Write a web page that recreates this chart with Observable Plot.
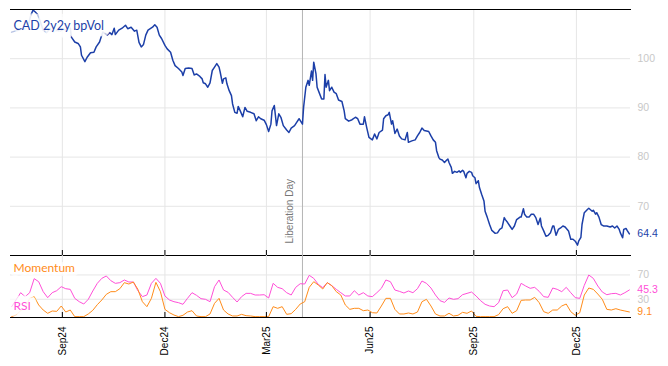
<!DOCTYPE html>
<html><head><meta charset="utf-8">
<script src="https://cdn.jsdelivr.net/npm/d3@7"></script>
<script src="https://cdn.jsdelivr.net/npm/@observablehq/plot@0.6"></script>
<style>
body{margin:0;background:#fff;}
#chart{position:relative;width:668px;height:366px;}
#chart svg{position:absolute;left:0;}
</style></head><body><div id="chart"></div>
<script>
const bpDates = ["2024-07-18","2024-07-21","2024-07-24","2024-07-27","2024-07-30","2024-08-02","2024-08-04","2024-08-06","2024-08-08","2024-08-10",
"2024-08-12","2024-08-15","2024-08-18","2024-08-21","2024-08-24","2024-08-27","2024-08-30","2024-09-02","2024-09-05","2024-09-08",
"2024-09-09","2024-09-12","2024-09-15","2024-09-17","2024-09-18","2024-09-21","2024-09-23","2024-09-26","2024-09-29","2024-10-01",
"2024-10-04","2024-10-06","2024-10-07","2024-10-09","2024-10-11","2024-10-13","2024-10-15","2024-10-17","2024-10-18","2024-10-21",
"2024-10-24","2024-10-27","2024-10-29","2024-11-01","2024-11-04","2024-11-06","2024-11-08","2024-11-10","2024-11-12","2024-11-14",
"2024-11-16","2024-11-20","2024-11-22","2024-11-24","2024-11-26","2024-11-28","2024-12-01","2024-12-03","2024-12-06","2024-12-08",
"2024-12-10","2024-12-13","2024-12-16","2024-12-17","2024-12-19","2024-12-22","2024-12-25","2024-12-27","2024-12-29","2025-01-01",
"2025-01-03","2025-01-04","2025-01-06","2025-01-08","2025-01-10","2025-01-12","2025-01-14","2025-01-16","2025-01-18","2025-01-19",
"2025-01-21","2025-01-22","2025-01-24","2025-01-25","2025-01-27","2025-01-29","2025-01-30","2025-02-01","2025-02-03","2025-02-04",
"2025-02-06","2025-02-08","2025-02-10","2025-02-12","2025-02-15","2025-02-18","2025-02-20","2025-02-22","2025-02-24","2025-02-27",
"2025-03-01","2025-03-03","2025-03-05","2025-03-06","2025-03-08","2025-03-10","2025-03-12","2025-03-14","2025-03-16","2025-03-19",
"2025-03-21","2025-03-23","2025-03-26","2025-03-28","2025-03-30","2025-04-02","2025-04-03","2025-04-05","2025-04-07","2025-04-08",
"2025-04-10","2025-04-11","2025-04-12","2025-04-14","2025-04-15","2025-04-17","2025-04-19","2025-04-21","2025-04-22","2025-04-23",
"2025-04-25","2025-04-26","2025-04-28","2025-04-30","2025-05-02","2025-05-04","2025-05-07","2025-05-09","2025-05-10","2025-05-13",
"2025-05-16","2025-05-19","2025-05-21","2025-05-23","2025-05-26","2025-05-27","2025-05-29","2025-05-31","2025-06-03","2025-06-05",
"2025-06-07","2025-06-09","2025-06-12","2025-06-13","2025-06-15","2025-06-17","2025-06-18","2025-06-20","2025-06-21","2025-06-23",
"2025-06-25","2025-06-27","2025-06-29","2025-07-02","2025-07-04","2025-07-05","2025-07-08","2025-07-11","2025-07-13","2025-07-15",
"2025-07-17","2025-07-19","2025-07-23","2025-07-25","2025-07-27","2025-07-29","2025-07-30","2025-08-01","2025-08-02","2025-08-04",
"2025-08-06","2025-08-08","2025-08-09","2025-08-10","2025-08-12","2025-08-13","2025-08-15","2025-08-17","2025-08-19","2025-08-20",
"2025-08-22","2025-08-23","2025-08-25","2025-08-26","2025-08-28","2025-08-30","2025-08-31","2025-09-02","2025-09-03","2025-09-05",
"2025-09-06","2025-09-08","2025-09-10","2025-09-11","2025-09-13","2025-09-15","2025-09-17","2025-09-20","2025-09-22","2025-09-24",
"2025-09-26","2025-09-28","2025-09-29","2025-10-01","2025-10-03","2025-10-05","2025-10-07","2025-10-09","2025-10-12","2025-10-13",
"2025-10-15","2025-10-16","2025-10-18","2025-10-20","2025-10-22","2025-10-24","2025-10-26","2025-10-28","2025-10-30","2025-10-31",
"2025-11-02","2025-11-04","2025-11-06","2025-11-08","2025-11-10","2025-11-11","2025-11-13","2025-11-15","2025-11-17","2025-11-19",
"2025-11-21","2025-11-24","2025-11-26","2025-11-28","2025-11-30","2025-12-02","2025-12-03","2025-12-05","2025-12-06","2025-12-08",
"2025-12-11","2025-12-12","2025-12-14","2025-12-15","2025-12-16","2025-12-18","2025-12-19","2025-12-21","2025-12-23","2025-12-25",
"2025-12-28","2025-12-31","2026-01-02","2026-01-04","2026-01-06","2026-01-08","2026-01-09","2026-01-11","2026-01-12","2026-01-14",
"2026-01-15","2026-01-17"];
const bpVol = [105.4,105.6,105.8,106.1,106.0,107.1,108.8,109.9,109.5,109.0,
107.8,105.8,105.3,106.1,105.4,105.8,105.6,106.0,105.8,106.2,
104.4,103.4,103.1,102.4,100.7,99.4,100.3,101.2,101.3,102.4,
103.4,104.8,105.4,105.1,104.8,105.3,104.9,106.2,104.9,105.8,
106.2,106.8,106.1,106.4,105.6,105.8,103.3,102.4,102.9,104.8,
105.8,106.4,106.9,106.4,104.8,104.1,102.7,102.0,101.3,99.7,
98.6,98.0,97.3,96.6,98.0,98.1,98.0,96.7,96.9,96.4,
95.9,95.1,94.9,94.2,95.1,97.6,98.3,99.0,98.3,97.3,
95.0,95.9,96.1,94.9,93.5,92.5,90.8,89.1,88.9,90.3,
89.3,88.2,90.1,89.3,89.1,88.8,87.4,88.2,87.8,87.5,
86.6,85.2,86.7,89.4,90.5,86.4,88.8,88.0,86.4,85.5,
85.0,85.9,86.4,87.1,87.8,86.7,90.1,94.2,95.6,94.6,
97.5,95.6,99.3,96.9,94.2,93.0,91.8,91.8,96.8,94.2,
95.6,93.5,94.2,93.2,92.9,91.6,91.3,89.4,87.8,87.3,
87.6,88.1,87.8,86.7,86.7,88.2,86.0,84.0,83.5,84.7,
83.7,85.0,85.5,87.8,88.4,88.6,89.1,86.7,87.4,84.8,
85.7,84.3,83.7,83.5,85.0,83.0,83.3,83.5,84.3,85.0,
85.9,85.4,85.2,84.3,83.5,83.0,81.3,79.9,79.6,79.4,
78.9,79.4,79.6,78.9,77.9,76.7,77.1,76.9,77.2,76.9,
77.3,77.1,75.8,76.7,77.1,76.9,76.2,75.8,74.6,75.2,
73.8,72.4,71.1,69.0,67.7,66.3,65.1,64.5,64.6,65.3,
65.6,67.7,67.3,66.7,66.0,65.3,66.0,67.3,67.8,67.8,
69.5,68.4,67.8,67.8,68.4,68.4,67.7,66.3,67.6,66.0,
65.0,63.9,64.1,64.6,66.0,66.0,64.1,65.3,65.6,66.0,
65.8,65.0,63.3,63.3,62.9,62.1,62.9,63.7,66.3,68.7,
69.4,69.6,69.2,69.0,69.2,68.4,68.7,67.8,66.3,66.0,
66.0,65.8,66.0,65.6,66.0,65.3,64.6,63.6,65.3,65.5,
65.1,64.4];

const oscDates = ["2024-07-18","2024-07-22","2024-07-26","2024-07-30","2024-08-03","2024-08-07","2024-08-11","2024-08-15","2024-08-19","2024-08-23",
"2024-08-27","2024-08-31","2024-09-04","2024-09-08","2024-09-12","2024-09-16","2024-09-20","2024-09-24","2024-09-28","2024-10-02",
"2024-10-06","2024-10-10","2024-10-14","2024-10-18","2024-10-22","2024-10-26","2024-10-30","2024-11-03","2024-11-07","2024-11-11",
"2024-11-15","2024-11-19","2024-11-23","2024-11-27","2024-12-01","2024-12-05","2024-12-09","2024-12-13","2024-12-17","2024-12-21",
"2024-12-25","2024-12-29","2025-01-02","2025-01-06","2025-01-10","2025-01-14","2025-01-18","2025-01-22","2025-01-26","2025-01-30",
"2025-02-03","2025-02-07","2025-02-11","2025-02-15","2025-02-19","2025-02-23","2025-02-27","2025-03-03","2025-03-07","2025-03-11",
"2025-03-15","2025-03-19","2025-03-23","2025-03-27","2025-03-31","2025-04-04","2025-04-08","2025-04-12","2025-04-16","2025-04-20",
"2025-04-24","2025-04-28","2025-05-02","2025-05-06","2025-05-10","2025-05-14","2025-05-18","2025-05-22","2025-05-26","2025-05-30",
"2025-06-03","2025-06-07","2025-06-11","2025-06-15","2025-06-19","2025-06-23","2025-06-27","2025-07-01","2025-07-05","2025-07-09",
"2025-07-13","2025-07-17","2025-07-21","2025-07-25","2025-07-29","2025-08-02","2025-08-06","2025-08-10","2025-08-14","2025-08-18",
"2025-08-22","2025-08-26","2025-08-30","2025-09-03","2025-09-07","2025-09-11","2025-09-15","2025-09-19","2025-09-23","2025-09-27",
"2025-10-01","2025-10-05","2025-10-09","2025-10-13","2025-10-17","2025-10-21","2025-10-25","2025-10-29","2025-11-02","2025-11-06",
"2025-11-10","2025-11-14","2025-11-18","2025-11-22","2025-11-26","2025-11-30","2025-12-04","2025-12-08","2025-12-12","2025-12-16",
"2025-12-20","2025-12-24","2025-12-28","2026-01-01","2026-01-05","2026-01-09","2026-01-13","2026-01-17"];
const rsi = [17.8,28.8,40.8,34.3,40.8,63.9,58.9,42.5,32.6,40.8,
44.1,50.7,47.4,46.3,31.5,26.0,22.2,29.9,43.6,56.2,
64.4,68.3,60.6,56.2,57.3,61.7,58.4,58.4,44.1,34.3,
37.0,56.2,64.4,56.2,35.4,28.8,26.0,24.4,21.7,31.5,
40.8,36.5,31.0,29.9,26.0,50.7,61.7,45.2,41.4,33.2,
25.5,34.3,39.7,39.7,37.0,37.0,37.5,32.1,56.2,49.6,
47.4,40.8,37.0,49.6,55.6,55.1,69.4,64.4,54.5,49.1,
57.3,52.4,46.3,40.8,35.4,35.4,44.1,37.0,40.8,35.4,
34.3,40.8,48.0,61.7,58.9,45.2,43.0,40.3,43.6,40.8,
47.4,60.0,56.2,48.5,37.0,27.7,24.9,32.1,29.9,31.0,
37.5,39.7,41.9,35.4,27.7,21.7,18.9,17.8,24.4,44.1,
45.2,32.6,38.6,56.2,51.8,48.0,49.6,43.0,34.3,33.2,
48.5,46.3,42.5,49.6,40.8,32.6,31.5,52.9,69.9,64.4,
51.8,41.9,37.5,39.2,39.7,37.0,40.8,45.3];
const momentum = [1.4,4.1,11.2,15.1,31.5,34.3,20.6,12.3,6.9,10.7,
10.1,18.9,9.0,12.3,1.4,1.4,1.4,5.8,11.8,21.1,
28.8,38.1,42.5,42.5,47.4,57.3,55.1,58.4,46.3,26.0,
17.8,31.5,57.8,42.5,13.4,7.9,4.1,1.4,3.6,9.0,
11.2,2.5,1.4,1.4,5.8,23.3,31.5,12.3,5.8,2.5,
2.5,5.2,3.0,2.5,1.4,1.4,1.4,1.4,17.8,15.1,
17.8,5.2,6.3,13.4,22.2,26.0,49.6,58.9,53.5,46.9,
57.3,52.4,42.5,37.0,20.6,13.4,15.1,15.1,11.2,12.3,
7.9,7.4,18.9,31.5,31.5,13.4,5.8,5.8,7.4,5.8,
9.0,26.0,29.9,18.9,5.8,2.5,2.5,6.9,2.5,3.6,
8.5,6.9,10.7,1.9,1.4,1.4,1.4,1.4,4.7,14.5,
17.8,6.9,11.2,28.2,28.8,28.8,33.2,24.4,9.6,6.9,
12.3,12.3,18.9,22.2,9.6,3.6,7.9,37.0,48.5,46.3,
38.6,29.9,13.4,12.3,14.5,12.3,10.7,9.1];

const tickDates = ["2024-09-01","2024-12-01","2025-03-01","2025-06-01","2025-09-01","2025-12-01"];
const tickLabels = ["Sep24","Dec24","Mar25","Jun25","Sep25","Dec25"];
const eventDates = ["2025-04-02"];
const eventLabels = ["Liberation Day"];
const xDomain = ["2024-07-17","2026-01-18"];
const topDomain = [60, 110];
const topTicks = [70, 80, 90, 100];
const oscDomain = [0, 102];
const oscTicks = [30, 70];
const seriesNames = ["CAD 2y2y bpVol", "Momentum", "RSI"];

const BLUE = "#1c3fa8", ORANGE = "#ff8c1a", MAGENTA = "#ff4fd8";
const GRID = "#e6e6e6", AXISGRAY = "#c8c8c8";
const W = 668, ML = 10, MR = 38;
const TOP_H = 256, TOP_MT = 9, TOP_MB = 1;
const BOT_Y = 255, BOT_H = 111, BOT_MT = 0, BOT_MB = 49;
const TICK_LEN = 5;

const P = s => new Date(s + "T00:00:00Z");
const xd = xDomain.map(P);
const ticks = tickDates.map(P);
const labelOf = new Map(ticks.map((d, i) => [+d, tickLabels[i]]));
const events = eventDates.map((d, i) => ({date: P(d), label: eventLabels[i]}));
const main = bpDates.map((d, i) => ({date: P(d), v: bpVol[i]}));
const osc = oscDates.map((d, i) => ({date: P(d), m: momentum[i], r: rsi[i]}));
const lastMain = main[main.length - 1];
const lastOsc = osc[osc.length - 1];

const AX_FONT = "Liberation Sans, Arial, sans-serif";
const LEG_FONT = "Lato, 'Open Sans', sans-serif";

const topPlot = Plot.plot({
  width: W, height: TOP_H, marginTop: TOP_MT, marginBottom: TOP_MB, marginLeft: ML, marginRight: MR,
  style: {background: "transparent", fontFamily: AX_FONT},
  x: {type: "utc", domain: xd, axis: null},
  y: {domain: topDomain, axis: null},
  marks: [
    Plot.gridY(topTicks, {stroke: GRID, strokeOpacity: 1}),
    Plot.gridX(ticks, {stroke: GRID, strokeOpacity: 1}),
    Plot.ruleX(events, {x: "date", stroke: "#b4b4b4", strokeWidth: 1}),
    Plot.text(events, {x: "date", text: "label", frameAnchor: "bottom", rotate: -90, textAnchor: "start",
      dx: -9, dy: -12, fill: "#777", fontSize: 10, fontFamily: AX_FONT}),
    Plot.line(main, {x: "date", y: "v", stroke: BLUE, strokeWidth: 1.5}),
    Plot.frame({anchor: "top", stroke: "black"}),
    Plot.frame({anchor: "bottom", stroke: "black"}),
    Plot.tickX(ticks, {x: d => d, stroke: "black", insetTop: TOP_H - TOP_MT - TOP_MB - TICK_LEN}),
    Plot.axisY(topTicks, {anchor: "right", tickSize: 0, tickPadding: 7, fill: AXISGRAY, fontSize: 10.5, fontFamily: AX_FONT, label: null}),
    Plot.text([lastMain], {x: "date", y: "v", text: d => d.v.toFixed(1), textAnchor: "start", dx: 8,
      fill: BLUE, fontSize: 10.5, fontFamily: AX_FONT}),
    Plot.text([seriesNames[0]], {frameAnchor: "top-left", dx: 3, dy: 16, lineAnchor: "middle", textAnchor: "start",
      fill: BLUE, stroke: "white", strokeWidth: 13, strokeOpacity: 0.7, strokeLinejoin: "round", fontSize: 12.5, fontFamily: LEG_FONT})
  ]
});

const botPlot = Plot.plot({
  width: W, height: BOT_H, marginTop: BOT_MT, marginBottom: BOT_MB, marginLeft: ML, marginRight: MR,
  style: {background: "transparent", fontFamily: AX_FONT},
  x: {type: "utc", domain: xd, axis: null},
  y: {domain: oscDomain, axis: null},
  marks: [
    Plot.gridY(oscTicks, {stroke: GRID, strokeOpacity: 1}),
    Plot.gridX(ticks, {stroke: GRID, strokeOpacity: 1}),
    Plot.ruleX(events, {x: "date", stroke: "#b4b4b4", strokeWidth: 1}),
    Plot.line(osc, {x: "date", y: "r", stroke: MAGENTA, strokeWidth: 1}),
    Plot.line(osc, {x: "date", y: "m", stroke: ORANGE, strokeWidth: 1}),
    Plot.frame({anchor: "bottom", stroke: "black"}),
    Plot.tickX(ticks, {x: d => d, stroke: "black", insetTop: BOT_H - BOT_MT - BOT_MB - TICK_LEN}),
    Plot.axisX(ticks, {anchor: "bottom", tickSize: 0, tickPadding: 9, tickRotate: -90,
      tickFormat: d => labelOf.get(+d), fill: "black", fontSize: 10, fontFamily: AX_FONT, label: null}),
    Plot.axisY(oscTicks, {anchor: "right", tickSize: 0, tickPadding: 7, fill: AXISGRAY, fontSize: 10.5, fontFamily: AX_FONT, label: null}),
    Plot.text([lastOsc], {x: "date", y: "r", text: d => d.r.toFixed(1), textAnchor: "start", dx: 8,
      fill: MAGENTA, fontSize: 10.5, fontFamily: AX_FONT}),
    Plot.text([lastOsc], {x: "date", y: "m", text: d => d.m.toFixed(1), textAnchor: "start", dx: 8,
      fill: ORANGE, fontSize: 10.5, fontFamily: AX_FONT}),
    Plot.text([seriesNames[1]], {frameAnchor: "top-left", dx: 3, dy: 13, lineAnchor: "middle", textAnchor: "start",
      fill: ORANGE, stroke: "white", strokeWidth: 8, strokeOpacity: 0.7, strokeLinejoin: "round", fontSize: 12, fontFamily: LEG_FONT}),
    Plot.text([seriesNames[2]], {frameAnchor: "top-left", dx: 3, dy: 51, lineAnchor: "middle", textAnchor: "start",
      fill: MAGENTA, stroke: "white", strokeWidth: 13, strokeOpacity: 0.7, strokeLinejoin: "round", fontSize: 12, fontFamily: LEG_FONT})
  ]
});

const chart = document.getElementById("chart");
topPlot.style.top = "0px";
botPlot.style.top = BOT_Y + "px";
chart.appendChild(topPlot);
chart.appendChild(botPlot);
</script>
</body></html>
